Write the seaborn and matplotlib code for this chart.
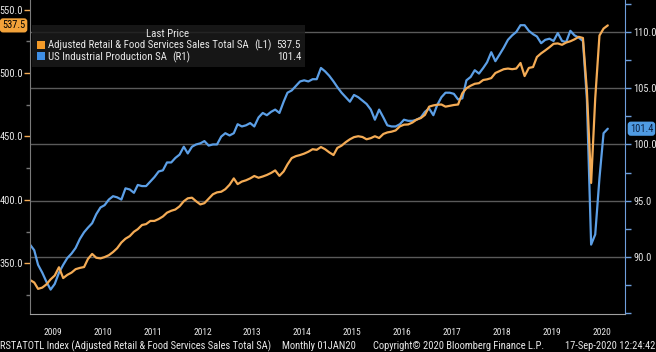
import matplotlib
matplotlib.use('Agg')
import matplotlib.pyplot as plt
import matplotlib.dates as mdates
from matplotlib.patches import Rectangle
import numpy as np
import pandas as pd
import seaborn as sns

sns.set_style('dark')
plt.rcParams['font.family'] = ['Roboto Condensed', 'Liberation Sans Narrow',
                               'Open Sans Condensed', 'Roboto', 'DejaVu Sans']

# monthly values Jan 2009 .. Aug 2020
retail = [
    337.0, 335.0, 330.0, 331.0, 333.5, 337.5, 340.5, 347.0, 338.5, 341.0, 342.8, 345.5,
    346.5, 347.2, 353.5, 357.5, 354.5, 354.0, 355.0, 356.5, 359.0, 362.0, 366.5, 369.5,
    371.5, 375.0, 377.0, 380.3, 381.0, 383.5, 383.5, 385.0, 387.0, 390.0, 391.5, 392.5,
    395.0, 399.0, 401.3, 401.8, 399.0, 396.5, 397.5, 401.0, 404.5, 406.0, 406.5, 408.5,
    412.0, 417.0, 412.5, 414.5, 415.5, 417.0, 418.9, 417.5, 418.5, 419.7, 421.3, 423.3,
    419.0, 422.5, 428.0, 433.0, 434.5, 435.4, 436.5, 438.0, 440.0, 439.5, 441.7, 440.0,
    437.5, 435.4, 441.0, 442.8, 445.5, 447.8, 449.5, 450.2, 449.6, 447.8, 448.7, 450.2,
    448.8, 452.0, 453.2, 453.8, 454.8, 458.0, 459.3, 459.5, 461.0, 463.3, 464.5, 467.0,
    473.5, 474.5, 475.0, 475.2, 473.5, 474.2, 474.8, 475.2, 484.0, 488.0, 490.0, 491.5,
    492.0, 494.5, 495.0, 496.0, 500.0, 501.5, 503.0, 503.5, 503.0, 503.5, 507.9, 497.6,
    504.0, 504.7, 512.6, 515.5, 517.8, 520.3, 523.0, 523.3, 522.2, 524.0, 525.0, 526.5,
    528.5, 527.6, 486.0, 413.4, 480.0, 529.5, 535.0, 537.5,
]
indprod = [
    91.1, 90.6, 89.3, 88.6, 87.8, 87.1, 87.6, 88.6, 89.3, 89.9, 90.3, 90.8,
    91.6, 92.2, 92.6, 93.0, 93.8, 94.4, 94.6, 95.1, 95.4, 95.3, 95.1, 96.1,
    96.0, 95.7, 96.4, 96.3, 96.3, 96.7, 97.1, 97.6, 97.7, 98.4, 98.4, 98.8,
    99.1, 99.8, 99.2, 99.8, 100.0, 100.1, 100.3, 99.9, 100.0, 100.0, 100.7, 101.0,
    100.8, 101.0, 101.8, 101.6, 101.7, 101.9, 101.6, 102.4, 102.8, 102.6, 102.9, 103.1,
    102.8, 103.8, 104.6, 104.8, 105.2, 105.6, 105.7, 105.6, 105.8, 105.8, 106.8, 106.5,
    106.1, 105.6, 105.1, 104.6, 104.2, 103.8, 104.4, 104.2, 103.9, 103.6, 103.1, 102.2,
    103.1, 102.4, 101.7, 101.6, 101.6, 101.8, 102.2, 102.1, 102.1, 102.2, 102.4, 102.9,
    103.2, 102.6, 103.5, 104.2, 104.6, 104.6, 104.5, 104.0, 104.1, 105.7, 106.0, 106.6,
    106.3, 106.8, 107.3, 108.2, 107.4, 108.0, 108.6, 109.3, 109.7, 110.0, 110.6, 110.6,
    110.1, 109.8, 109.6, 109.0, 109.3, 109.4, 109.2, 109.9, 109.2, 109.1, 110.1, 109.7,
    109.5, 109.2, 104.0, 91.1, 92.0, 97.0, 101.0, 101.4,
]
dates = pd.date_range('2009-01-01', '2020-08-01', freq='MS') + pd.Timedelta(days=14)
df = pd.DataFrame({'date': dates, 'retail': retail, 'ip': indprod})

left_ticks = [350, 400, 450, 500, 550]
right_ticks = [90, 95, 100, 105, 110]
retail_name = 'Adjusted Retail & Food Services Sales Total SA'
ip_name = 'US Industrial Production SA'

ORANGE = '#f4ab55'
BLUE = '#5c9fe6'
TXT = '#e8e8e8'
W, H = 656, 352

def px(x, y):
    return x / W, 1 - y / H

fig = plt.figure(figsize=(W / 100, H / 100), dpi=100, facecolor='black')
renderer = fig.canvas.get_renderer()

def fit_size(s, width, base=10):
    # font size that makes the string about `width` pixels wide
    t = fig.text(0, 0, s, fontsize=base)
    w = t.get_window_extent(renderer).width
    t.remove()
    return base * width / w

tick_fs = min(fit_size('110.0', 23), 8.5)
year_fs = min(fit_size('2009', 18.5), 8.5)

ax = fig.add_axes([30 / W, 38 / H, 595 / W, 314 / H])
ax2 = ax.twinx()
ax.set_zorder(2)
ax2.set_zorder(1)
ax.patch.set_visible(False)
ax2.patch.set_visible(True)
ax2.set_facecolor('black')

sns.lineplot(data=df, x='date', y='ip', ax=ax2, color=BLUE, lw=1.6)
sns.lineplot(data=df, x='date', y='retail', ax=ax, color=ORANGE, lw=1.6)

ax.set_xlim(pd.Timestamp('2009-01-15'), pd.Timestamp('2020-12-19'))
ax.set_ylim(310.2, 557.5)
ax2.set_ylim(84.93, 112.84)
ax.set_xlabel('')
ax.set_ylabel('')
ax2.set_ylabel('')

# left axis
ax.set_yticks(left_ticks)
ax.set_yticklabels([f'{v:.1f}' for v in left_ticks])
ax.set_yticks(np.arange(325, 560, 50), minor=True)
ax.tick_params(axis='y', which='major', length=4, width=1, color=ORANGE,
               labelcolor=TXT, labelsize=tick_fs, pad=1)
ax.tick_params(axis='y', which='minor', length=3, width=1, color='#777777')

# right axis
ax2.set_yticks(right_ticks)
ax2.set_yticklabels([f'{v:.1f}' for v in right_ticks])
ax2.set_yticks([85, 87.5, 92.5, 97.5, 102.5, 107.5, 112.5], minor=True)
ax2.tick_params(axis='y', which='both', length=4, width=1, color='#6f9fdc',
                labelcolor=TXT, labelsize=tick_fs, pad=2)
ax2.yaxis.grid(True, which='major', color='#5a5a5a', lw=1)
ax2.xaxis.grid(False)
ax.grid(False)

# x axis: year boundaries and centred year labels
ax.xaxis.set_major_locator(mdates.YearLocator(1))
ax.xaxis.set_major_formatter(plt.NullFormatter())
ax.xaxis.set_minor_locator(mdates.MonthLocator(bymonth=7))
ax.xaxis.set_minor_formatter(mdates.DateFormatter('%Y'))
ax.tick_params(axis='x', which='major', length=17, width=1, color='#8a8a8a')
ax.tick_params(axis='x', which='minor', length=0, labelcolor=TXT, labelsize=year_fs, pad=10)

for s in ['top', 'right']:
    ax.spines[s].set_visible(False)
ax.spines['left'].set_color('#7a7a7a')
ax.spines['bottom'].set_color('#a0a0a0')
for s in ['top', 'left', 'bottom']:
    ax2.spines[s].set_visible(False)
ax2.spines['right'].set_color('#6f9fdc')

# last value badges
ax.text(-0.008, retail[-1], f'{retail[-1]:.1f}', transform=ax.get_yaxis_transform(),
        ha='right', va='center', fontsize=tick_fs, color='black',
        bbox=dict(boxstyle='round,pad=0.2,rounding_size=0.3', fc='#f2a23a', ec='none'))
ax2.text(1.008, indprod[-1], f'{indprod[-1]:.1f}', transform=ax2.get_yaxis_transform(),
         ha='left', va='center', fontsize=tick_fs, color='#0b1f3f',
         bbox=dict(boxstyle='round,pad=0.2,rounding_size=0.3', fc='#4f9be3', ec='none'))

# legend panel
x0, y0 = px(32, 67)
fig.patches.append(Rectangle((x0, y0), 273 / W, 42 / H, transform=fig.transFigure,
                             fc='#1b1b1b', ec='none', alpha=0.85, zorder=5))
fig.patches.append(Rectangle(px(37, 48.5), 7.5 / W, 7.5 / H, transform=fig.transFigure,
                             fc='#f39a28', ec='none', zorder=6))
fig.patches.append(Rectangle(px(37, 60), 7.5 / W, 7.5 / H, transform=fig.transFigure,
                             fc='#3f8fe6', ec='none', zorder=6))
leg_fs = min(fit_size(retail_name, 200), 8.5)
kw = dict(fontsize=leg_fs, color=TXT, va='center', zorder=7)
fig.text(*px(168, 34), 'Last Price', ha='center', **kw)
fig.text(*px(48, 45), retail_name, ha='left', **kw)
fig.text(*px(254, 45), '(L1)', ha='left', **kw)
fig.text(*px(301, 45), f'{retail[-1]:.1f}', ha='right', **kw)
fig.text(*px(48, 57), ip_name, ha='left', **kw)
fig.text(*px(172, 57), '(R1)', ha='left', **kw)
fig.text(*px(301, 57), f'{indprod[-1]:.1f}', ha='right', **kw)

# footer
foot1 = 'RSTATOTL Index (Adjusted Retail & Food Services Sales Total SA)'
foot_fs = min(fit_size(foot1, 272), 8.5)
fkw = dict(fontsize=foot_fs, color=TXT, va='center')
fig.text(*px(0, 346), foot1, ha='left', **fkw)
fig.text(*px(282, 346), 'Monthly 01JAN20', ha='left', **fkw)
fig.text(*px(373, 346), 'Copyright\u00a9 2020 Bloomberg Finance L.P.', ha='left', **fkw)
fig.text(*px(655, 346), '17-Sep-2020 12:24:42', ha='right', **fkw)

fig.savefig('out.png', dpi=100, facecolor='black')
